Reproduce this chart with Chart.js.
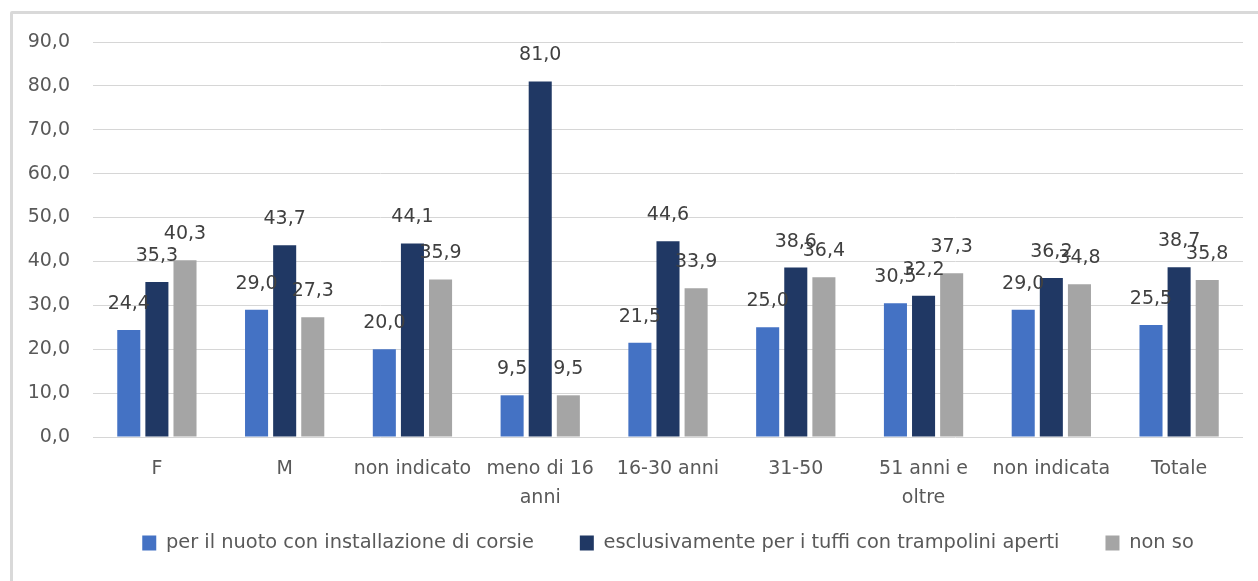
<!DOCTYPE html>
<html lang="it">
<head>
<meta charset="utf-8">
<title>Utilizzo della vasca</title>
<script src="https://cdn.jsdelivr.net/npm/chart.js@4.4.1/dist/chart.umd.min.js"></script>
<style>
  html, body { margin: 0; padding: 0; background: #ffffff; overflow: hidden; }
  #frame {
    position: absolute; left: 10px; top: 11px; width: 1300px; height: 620px;
    border: 3px solid #d9d9d9; border-radius: 2px; box-sizing: border-box;
  }
  #wrap { position: absolute; left: 0; top: 0; width: 1258px; height: 581px; }
</style>
</head>
<body>
<div id="frame"></div>
<div id="wrap"><canvas id="chart" width="1258" height="581"></canvas></div>
<script>
// Categories (sex and age groups) and their axis labels
const categories = ["F", "M", "non indicato", "meno di 16 anni", "16-30 anni", "31-50", "51 anni e oltre", "non indicata", "Totale"];
const tickLabels = ["F", "M", "non indicato", ["meno di 16", "anni"], "16-30 anni", "31-50", ["51 anni e", "oltre"], "non indicata", "Totale"];

// Series names
const seriesNames = [
  "per il nuoto con installazione di corsie",
  "esclusivamente per i tuffi con trampolini aperti",
  "non so"
];

// Percentages per category
const nuotoCorsie = [24.4, 29.0, 20.0, 9.5, 21.5, 25.0, 30.5, 29.0, 25.5];
const soloTuffi   = [35.3, 43.7, 44.1, 81.0, 44.6, 38.6, 32.2, 36.2, 38.7];
const nonSo       = [40.3, 27.3, 35.9, 9.5, 33.9, 36.4, 37.3, 34.8, 35.8];

// Y axis range
const yMin = 0, yMax = 90, yStep = 10;

const FONT = "'DejaVu Sans', sans-serif";
const fmt = v => v.toFixed(1).replace('.', ',');

// Layout constants
const PAD_LEFT = 20, PAD_TOP = 42, PAD_RIGHT = 15;
const PLOT_LEFT = 93, PLOT_BOTTOM = 437;
const LEGEND_FONT = 19.4, LEGEND_PAD = 46, LEGEND_CENTER_Y = 543;
const LEGEND_TOP = LEGEND_CENTER_Y - LEGEND_PAD - LEGEND_FONT / 2;

// Value labels above each bar
const valueLabels = {
  id: 'valueLabels',
  afterDatasetsDraw(chart) {
    const ctx = chart.ctx;
    ctx.save();
    ctx.font = "19px " + FONT;
    ctx.fillStyle = '#404040';
    ctx.textAlign = 'center';
    ctx.textBaseline = 'middle';
    chart.data.datasets.forEach((ds, i) => {
      const meta = chart.getDatasetMeta(i);
      meta.data.forEach((bar, j) => {
        ctx.fillText(fmt(ds.data[j]), bar.x, bar.y - 26);
      });
    });
    ctx.restore();
  }
};

// Fixed legend block height; axis labels may extend past their boxes
const layoutTweaks = {
  id: 'layoutTweaks',
  beforeInit(chart) {
    const fit = chart.legend.fit;
    chart.legend.fit = function () {
      fit.bind(chart.legend)();
      this.height = 581 - LEGEND_TOP;
    };
  },
  beforeDraw(chart) {
    Object.values(chart.scales).forEach(s => { s._computeLabelArea = () => undefined; });
  }
};

new Chart(document.getElementById('chart'), {
  type: 'bar',
  data: {
    labels: tickLabels,
    datasets: [
      { label: seriesNames[0], data: nuotoCorsie, backgroundColor: '#4472C4' },
      { label: seriesNames[1], data: soloTuffi,   backgroundColor: '#203864' },
      { label: seriesNames[2], data: nonSo,       backgroundColor: '#A5A5A5' }
    ]
  },
  options: {
    responsive: false,
    animation: false,
    devicePixelRatio: 1,
    layout: { padding: { left: PAD_LEFT, right: PAD_RIGHT, top: PAD_TOP, bottom: 0 } },
    datasets: { bar: { categoryPercentage: 0.66, barPercentage: 0.82 } },
    scales: {
      x: {
        grid: { display: false },
        border: { display: false },
        ticks: {
          color: '#595959',
          font: { family: FONT, size: 19, lineHeight: 1.5 },
          padding: 10,
          maxRotation: 0,
          autoSkip: false
        },
        afterFit(scale) { scale.height = LEGEND_TOP - PLOT_BOTTOM; }
      },
      y: {
        min: yMin, max: yMax,
        grid: { color: '#d6d6d6', lineWidth: 1, drawTicks: false },
        border: { display: false },
        ticks: {
          stepSize: yStep,
          color: '#595959',
          font: { family: FONT, size: 19 },
          padding: 23,
          callback: v => fmt(v)
        },
        afterFit(scale) { scale.width = PLOT_LEFT - PAD_LEFT; }
      }
    },
    plugins: {
      legend: {
        position: 'bottom',
        fullSize: false,
        labels: {
          color: '#595959',
          font: { family: FONT, size: LEGEND_FONT },
          boxWidth: 14,
          boxHeight: 15,
          padding: LEGEND_PAD
        }
      },
      tooltip: { enabled: false }
    }
  },
  plugins: [valueLabels, layoutTweaks]
});
</script>
</body>
</html>
